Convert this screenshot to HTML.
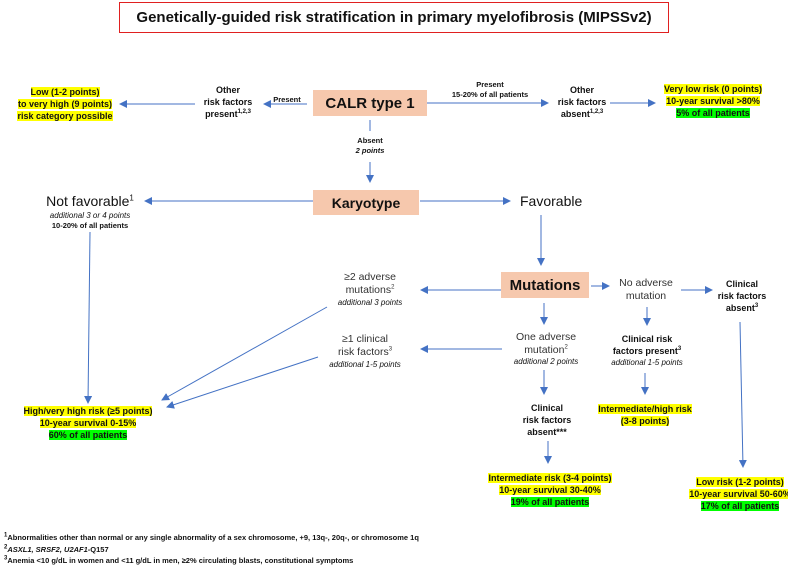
<!DOCTYPE html>
<html><head><meta charset="utf-8"><style>
body{margin:0;width:788px;height:570px;background:#fff;position:relative;overflow:hidden;font-family:"Liberation Sans",sans-serif;color:#111}
.t{position:absolute;width:240px;text-align:center;font-size:9px;line-height:12px;white-space:nowrap}
.b{font-weight:bold}
.i{font-style:italic;font-size:8px;line-height:11px;font-weight:normal}
.y{background:#ffff00}
.g{background:#00ff00}
.box{position:absolute;background:#f6c8ad;font-weight:bold;display:flex;align-items:center;justify-content:center}
sup{font-size:6px;line-height:0}
.l{font-size:10.5px;line-height:13px;color:#333}
</style></head><body>
<div style="position:absolute;left:119px;top:2px;width:548px;height:29px;border:1px solid #e02020;font-weight:bold;font-size:15px;text-align:center;line-height:29px">Genetically-guided risk stratification in primary myelofibrosis (MIPSSv2)</div>

<svg width="788" height="570" style="position:absolute;left:0;top:0">
<defs><marker id="a" markerWidth="8" markerHeight="8" refX="7" refY="4" orient="auto" markerUnits="userSpaceOnUse"><path d="M0,0 L8,4 L0,8z" fill="#4472c4"/></marker></defs>
<g stroke="#4472c4" stroke-width="1" fill="none" marker-end="url(#a)">
<line x1="307" y1="104" x2="264" y2="104"/>
<line x1="195" y1="104" x2="120" y2="104"/>
<line x1="427" y1="103" x2="548" y2="103"/>
<line x1="610" y1="103" x2="655" y2="103"/>
<line x1="370" y1="162" x2="370" y2="182"/>
<line x1="313" y1="201" x2="145" y2="201"/>
<line x1="420" y1="201" x2="510" y2="201"/>
<line x1="541" y1="215" x2="541" y2="265"/>
<line x1="501" y1="290" x2="421" y2="290"/>
<line x1="591" y1="286" x2="609" y2="286"/>
<line x1="681" y1="290" x2="712" y2="290"/>
<line x1="544" y1="303" x2="544" y2="324"/>
<line x1="502" y1="349" x2="421" y2="349"/>
<line x1="647" y1="307" x2="647" y2="325"/>
<line x1="645" y1="373" x2="645" y2="394"/>
<line x1="544" y1="370" x2="544" y2="394"/>
<line x1="548" y1="441" x2="548" y2="463"/>
<line x1="740" y1="322" x2="743" y2="467"/>
<line x1="90" y1="232" x2="88" y2="403"/>
<line x1="327" y1="307" x2="162" y2="400"/>
<line x1="318" y1="357" x2="167" y2="407"/>
</g>
<line x1="370" y1="120" x2="370" y2="131" stroke="#4472c4"/>
</svg>

<div class="box" style="left:313px;top:90px;width:114px;height:26px;font-size:15px">CALR type 1</div>
<div class="box" style="left:313px;top:190px;width:106px;height:25px;font-size:14px">Karyotype</div>
<div class="box" style="left:501px;top:272px;width:88px;height:26px;font-size:15px">Mutations</div>

<div class="t b" style="left:-55px;top:86px"><span class="y">Low (1-2 points)</span><br><span class="y">to very high (9 points)</span><br><span class="y">risk category possible</span></div>
<div class="t b" style="left:108px;top:84px">Other<br>risk factors<br>present<sup>1,2,3</sup></div>
<div class="t b" style="left:167px;top:94px;font-size:7.5px">Present</div>
<div class="t b" style="left:370px;top:80px;font-size:7.5px;line-height:10px">Present<br>15-20% of all patients</div>
<div class="t b" style="left:462px;top:84px">Other<br>risk factors<br>absent<sup>1,2,3</sup></div>
<div class="t b" style="left:593px;top:83px"><span class="y">Very low risk (0 points)</span><br><span class="y">10-year survival &gt;80%</span><br><span class="g">5% of all patients</span></div>
<div class="t b" style="left:250px;top:136px;font-size:7.5px;line-height:10px">Absent<br><i>2 points</i></div>

<div class="t" style="left:-30px;top:192px;font-size:14px;line-height:18px">Not favorable<sup style="font-size:8px">1</sup></div>
<div class="t i" style="left:-30px;top:210px">additional 3 or 4 points</div>
<div class="t b" style="left:-30px;top:220px;font-size:7.5px;line-height:11px">10-20% of all patients</div>
<div style="position:absolute;left:520px;top:192px;font-size:14px;line-height:18px">Favorable</div>

<div class="t l" style="left:250px;top:271px">≥2 adverse<br>mutations<sup>2</sup></div>
<div class="t i" style="left:250px;top:297px">additional 3 points</div>
<div class="t l" style="left:526px;top:277px">No adverse<br>mutation</div>
<div class="t b" style="left:622px;top:278px">Clinical<br>risk factors<br>absent<sup>3</sup></div>
<div class="t l" style="left:426px;top:331px">One adverse<br>mutation<sup>2</sup></div>
<div class="t i" style="left:426px;top:356px">additional 2 points</div>
<div class="t l" style="left:245px;top:333px">≥1 clinical<br>risk factors<sup>3</sup></div>
<div class="t i" style="left:245px;top:359px">additional 1-5 points</div>
<div class="t b" style="left:527px;top:333px">Clinical risk<br>factors present<sup>3</sup></div>
<div class="t i" style="left:527px;top:357px">additional 1-5 points</div>
<div class="t b" style="left:525px;top:403px"><span class="y">Intermediate/high risk</span><br><span class="y">(3-8 points)</span></div>
<div class="t b" style="left:427px;top:402px">Clinical<br>risk factors<br>absent***</div>
<div class="t b" style="left:430px;top:472px"><span class="y">Intermediate risk (3-4 points)</span><br><span class="y">10-year survival 30-40%</span><br><span class="g">19% of all patients</span></div>
<div class="t b" style="left:620px;top:476px"><span class="y">Low risk (1-2 points)</span><br><span class="y">10-year survival 50-60%</span><br><span class="g">17% of all patients</span></div>
<div class="t b" style="left:-32px;top:405px"><span class="y">High/very high risk (≥5 points)</span><br><span class="y">10-year survival 0-15%</span><br><span class="g">60% of all patients</span></div>

<div style="position:absolute;left:4px;top:532px;font-size:7.5px;line-height:11.5px;font-weight:bold;white-space:nowrap">
<sup>1</sup>Abnormalities other than normal or any single abnormality of a sex chromosome, +9, 13q-, 20q-, or chromosome 1q<br>
<sup>2</sup><i>ASXL1, SRSF2, U2AF1</i>-Q157<br>
<sup>3</sup>Anemia &lt;10 g/dL in women and &lt;11 g/dL in men, ≥2% circulating blasts, constitutional symptoms</div>
</body></html>
